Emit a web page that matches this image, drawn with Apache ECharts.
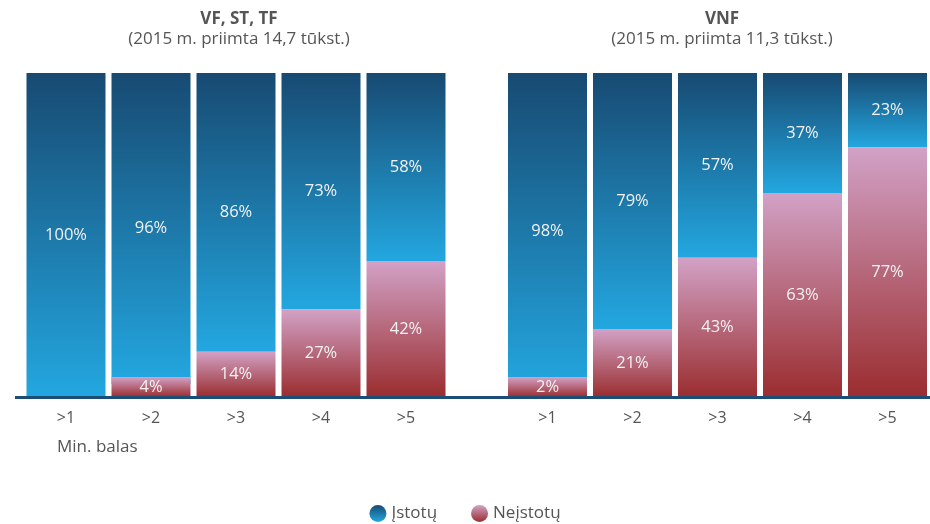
<!DOCTYPE html>
<html>
<head>
<meta charset="utf-8">
<script src="https://cdn.jsdelivr.net/npm/echarts@6/dist/echarts.min.js"></script>
<style>
  html, body { margin: 0; padding: 0; background: #fff; }
  #chart { width: 930px; height: 524px; }
</style>
</head>
<body>
<div id="chart"></div>
<script>
// min. balas categories
const categories = ['>1', '>2', '>3', '>4', '>5']

// VF, ST, TF
const leftIstotu = [100, 96, 86, 73, 58]
const leftNeistotu = [0, 4, 14, 27, 42]

// VNF
const rightIstotu = [98, 79, 57, 37, 23]
const rightNeistotu = [2, 21, 43, 63, 77]

const textColor = '#555'
const fontFamily = '"Open Sans", "Noto Sans", sans-serif'

const blueGrad = () => new echarts.graphic.LinearGradient(0, 0, 0, 1, [
  { offset: 0, color: '#174a72' },
  { offset: 1, color: '#23a7e0' }
])
const redGrad = () => new echarts.graphic.LinearGradient(0, 0, 0, 1, [
  { offset: 0, color: '#d2a2c6' },
  { offset: 1, color: '#9a2d2f' }
])

const chart = echarts.init(document.getElementById('chart'))

const barLabel = {
  show: true,
  position: 'inside',
  color: '#f2f2f2',
  fontSize: 16.5,
  fontFamily: fontFamily,
  formatter: (p) => (p.value > 0 ? p.value + '%' : '')
}

// small red parts are drawn taller in the original, on top of the blue part
const makeSeries = (name, data, idx, grad, isRed) => ({
  name: name,
  type: 'bar',
  stack: 'g' + idx,
  xAxisIndex: idx,
  yAxisIndex: idx,
  data: data.map(v => (v === 0 ? null : v)),
  barWidth: 79,
  barMinHeight: isRed ? 20 : 0,
  z: isRed ? 3 : 2,
  itemStyle: { color: grad() },
  label: barLabel,
  emphasis: { disabled: true }
})

const xAxisBase = (idx) => ({
  type: 'category',
  gridIndex: idx,
  data: categories,
  axisLine: { show: true, lineStyle: { color: '#1b4d76', width: 3 } },
  axisTick: { show: false },
  axisLabel: { color: textColor, fontSize: 16, fontFamily: fontFamily, margin: 13 }
})

const yAxisBase = (idx) => ({
  type: 'value',
  gridIndex: idx,
  min: 0,
  max: 100,
  show: false,
  splitLine: { show: false }
})

const titleStyle = { color: textColor, fontSize: 17, fontWeight: 'bold', fontFamily: fontFamily }
const subStyle = { color: textColor, fontSize: 17, fontFamily: fontFamily }

const option = {
  animation: false,
  textStyle: { fontFamily: fontFamily },
  title: [
    {
      text: 'VF, ST, TF',
      subtext: '(2015 m. priimta 14,7 tūkst.)',
      left: 234,
      top: 6,
      textAlign: 'center',
      itemGap: 3,
      textStyle: titleStyle,
      subtextStyle: subStyle
    },
    {
      text: 'VNF',
      subtext: '(2015 m. priimta 11,3 tūkst.)',
      left: 717,
      top: 6,
      textAlign: 'center',
      itemGap: 3,
      textStyle: titleStyle,
      subtextStyle: subStyle
    },
    {
      text: 'Min. balas',
      left: 52,
      top: 434,
      textStyle: { color: textColor, fontSize: 17, fontWeight: 'normal', fontFamily: fontFamily }
    }
  ],
  legend: {
    top: 505,
    left: 'center',
    padding: 0,
    itemWidth: 17,
    itemHeight: 17,
    itemGap: 34,
    icon: 'circle',
    data: ['Įstotų', 'Neįstotų'],
    textStyle: { color: textColor, fontSize: 17, fontFamily: fontFamily }
  },
  grid: [
    { left: 23.5, width: 425, top: 73, bottom: 127 },
    { left: 505, width: 425, top: 73, bottom: 127 }
  ],
  xAxis: [xAxisBase(0), xAxisBase(1)],
  yAxis: [yAxisBase(0), yAxisBase(1)],
  graphic: [
    {
      type: 'line',
      z: 100,
      shape: { x1: 15, y1: 397.5, x2: 930, y2: 397.5 },
      style: { stroke: '#1b4d76', lineWidth: 3 }
    }
  ],
  series: [
    makeSeries('Neįstotų', leftNeistotu, 0, redGrad, true),
    makeSeries('Įstotų', leftIstotu, 0, blueGrad, false),
    makeSeries('Neįstotų', rightNeistotu, 1, redGrad, true),
    makeSeries('Įstotų', rightIstotu, 1, blueGrad, false)
  ]
}

chart.setOption(option)
</script>
</body>
</html>
